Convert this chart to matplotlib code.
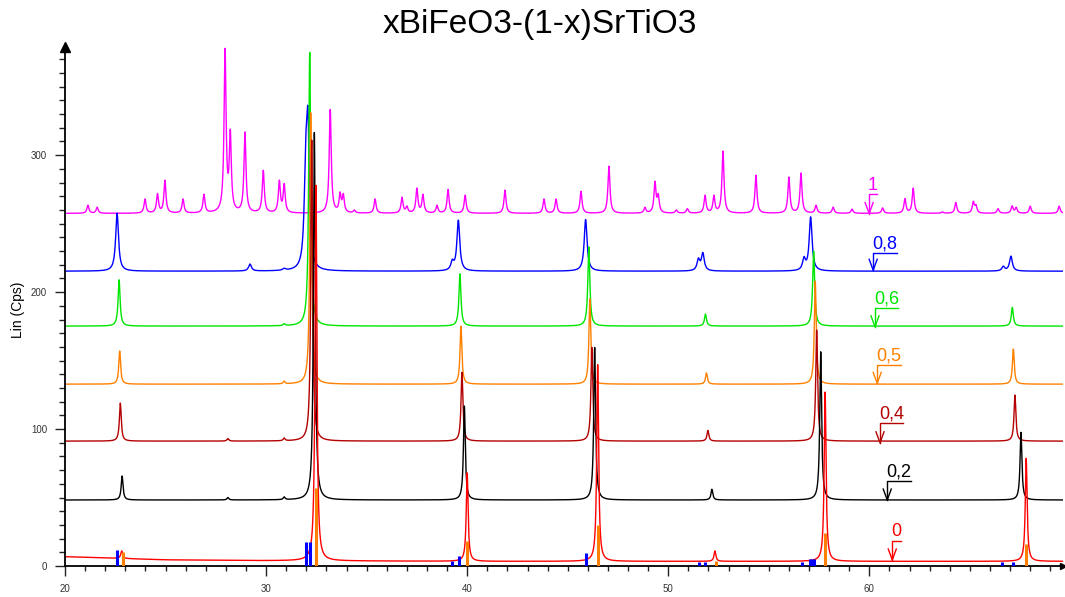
import numpy as np
import matplotlib
matplotlib.use("Agg")
import matplotlib.pyplot as plt
from matplotlib.ticker import MultipleLocator

plt.rcParams['font.family'] = ['Liberation Sans', 'DejaVu Sans']

# ---------------- data ----------------
title = "xBiFeO3-(1-x)SrTiO3"
series_labels = ["1", "0,8", "0,6", "0,5", "0,4", "0,2", "0"]
series_colors = ["#ff00ff", "#0000ff", "#00e600", "#ff8000", "#b40000", "#000000", "#ff0000"]

# baselines (counts)
base_1 = 257.5
base_08 = 215.3
base_06 = 175.2
base_05 = 132.8
base_04 = 91.2
base_02 = 48.2
base_0_x = [20, 25, 30, 40, 70]
base_0_y = [6.8, 4.5, 3.9, 3.4, 3.4]

# peak positions (2theta) and peak-top values (counts)
pos_1 = [21.14, 21.6, 23.98, 24.6, 24.97, 25.87, 26.91, 27.96, 28.22, 28.95, 29.86, 30.66, 30.9,
         33.19, 33.68, 33.84, 34.39, 35.42, 36.76, 37.0, 37.5, 37.8, 38.5, 39.05, 39.9, 41.88,
         43.82, 44.42, 45.66, 47.05, 48.84, 49.34, 49.5, 50.4, 50.95, 51.83, 52.27, 52.72, 54.36,
         56.0, 56.6, 57.35, 58.2, 59.14, 60.66, 61.77, 62.18, 63.63, 64.3, 65.17, 65.3, 66.4,
         67.1, 67.3, 68.0, 69.44]
top_1 = [263.5, 262, 268, 272, 281.8, 268, 271.5, 378, 319, 317, 289, 281.8, 279.3,
         333.4, 273.2, 272, 260, 268, 269.3, 263, 276, 271.5, 263.5, 275, 270.8, 274.5,
         268, 268, 273.7, 292, 262, 281, 272, 260, 261, 270.8, 270.8, 303, 285.4,
         284, 287, 263.5, 262, 260.6, 261.5, 268.4, 276, 258.6, 265.5, 266.4, 264, 261,
         263, 262, 262.8, 262.8]

pos_08 = [22.59, 29.2, 30.9, 31.97, 32.08, 39.26, 39.56, 45.89, 51.5, 51.72, 56.75, 57.08, 66.66, 67.04]
top_08 = [257.7, 220.5, 217.5, 313, 335, 224, 252.6, 253, 225, 229, 226, 255, 219, 226.3]

pos_06 = [22.69, 30.9, 32.17, 39.64, 46.05, 51.85, 57.23, 67.11]
top_06 = [209, 177, 375, 213.4, 233, 184, 230, 188.8]

pos_05 = [22.72, 30.9, 32.22, 39.69, 46.1, 51.9, 57.31, 67.16]
top_05 = [157, 135, 331, 175, 195, 141, 208, 158.4]

pos_04 = [22.75, 28.1, 30.9, 32.27, 39.74, 46.2, 51.97, 57.38, 67.24]
top_04 = [119, 93, 93.5, 311, 141.4, 159.6, 99, 172.3, 124.8]

pos_02 = [22.84, 28.1, 30.9, 32.4, 39.86, 46.34, 52.17, 57.58, 67.54]
top_02 = [65.7, 50, 50.5, 316.5, 116.8, 159.6, 56, 156.4, 97.6]

pos_0 = [22.82, 32.48, 40.0, 46.49, 52.32, 57.8, 67.8]
top_0 = [11, 278, 68, 147, 11, 127, 78.6]

# reference sticks
stick_blue_pos = [22.57, 31.97, 32.18, 39.23, 39.6, 45.91, 51.53, 51.82, 56.66, 57.07, 57.17, 57.23, 66.61, 67.12]
stick_blue_h = [11.7, 17.3, 17.3, 3.5, 7, 9.5, 3, 3, 3, 5, 5, 5, 3, 3]
stick_orange_pos = [22.87, 32.5, 40.0, 46.5, 52.35, 57.8, 67.8]
stick_orange_h = [10.5, 57, 18.5, 30, 3.6, 24.3, 16]

# label anchors: arrow x, arrow-tip y, underline y, underline end x
lab_x = [59.99, 60.19, 60.28, 60.39, 60.53, 60.89, 61.14]
lab_tip = [257.4, 216, 174.7, 133.4, 90, 48.2, 4.4]
lab_line = [271.3, 228.7, 188.1, 146.7, 104.6, 62.3, 18.2]
lab_end = [60.38, 61.36, 61.44, 61.56, 61.69, 62.05, 61.59]

# ---------------- drawing ----------------
x = np.arange(20.0, 69.7, 0.005)


def lor(d, g):
    return g ** 2 / (d ** 2 + g ** 2)


def profile(xx, base_curve, pos, top, g):
    """Sum of Lorentzians whose summed maxima hit the read peak-top values."""
    pos = np.asarray(pos, float)
    top = np.asarray(top, float)
    b_at = np.interp(pos, xx, base_curve)
    M = lor(pos[:, None] - pos[None, :], g)
    amps = np.linalg.solve(M, top - b_at)
    y = base_curve.copy()
    for p, a in zip(pos, amps):
        y = y + a * lor(xx - p, g)
    return y


flat = np.ones_like(x)
base0 = np.interp(x, base_0_x, base_0_y)
curves = [
    profile(x, base_1 * flat, pos_1, top_1, 0.06),
    profile(x, base_08 * flat, pos_08, top_08, 0.085),
    profile(x, base_06 * flat, pos_06, top_06, 0.06),
    profile(x, base_05 * flat, pos_05, top_05, 0.055),
    profile(x, base_04 * flat, pos_04, top_04, 0.055),
    profile(x, base_02 * flat, pos_02, top_02, 0.055),
    profile(x, base0, pos_0, top_0, 0.055),
]

fig = plt.figure(figsize=(10.65, 5.97), dpi=100)
ax = fig.add_axes([65 / 1065, 1 - 566 / 597, 998 / 1065, (566 - 47) / 597])

for c, col in zip(curves, series_colors):
    ax.plot(x, c, color=col, lw=1.0)

ax.vlines(stick_blue_pos, 0, stick_blue_h, color="#0000ff", lw=2.2, zorder=5)
ax.vlines(stick_orange_pos, 0, stick_orange_h, color="#ff8000", lw=2.2, zorder=5)

for lab, col, ax_x, tip, ly, ex in zip(series_labels, series_colors, lab_x, lab_tip, lab_line, lab_end):
    ax.plot([ax_x, ax_x, ex], [tip, ly, ly], color=col, lw=1.0)
    ax.plot([ax_x - 0.2, ax_x, ax_x + 0.2], [tip + 8, tip, tip + 8], color=col, lw=1.0)
    ax.text((ax_x + ex) / 2, ly + 0.5, lab, color=col, fontsize=13, ha='center', va='bottom')

ax.set_xlim(20, 69.63)
ax.set_ylim(0, 379)

for s in ['top', 'right']:
    ax.spines[s].set_visible(False)
for s in ['left', 'bottom']:
    ax.spines[s].set_linewidth(1.3)
    ax.spines[s].set_color('black')

ax.xaxis.set_major_locator(MultipleLocator(10))
ax.xaxis.set_minor_locator(MultipleLocator(1))
ax.yaxis.set_major_locator(MultipleLocator(100))
ax.yaxis.set_minor_locator(MultipleLocator(10))
ax.tick_params(axis='x', which='major', length=7, width=1.0, labelsize=7, pad=6, labelcolor='#333333')
ax.tick_params(axis='x', which='minor', length=3.5, width=1.0)
ax.tick_params(axis='y', which='major', length=7, width=1.0, labelsize=7, pad=6, labelcolor='#333333')
ax.tick_params(axis='y', which='minor', length=4, width=1.0)
ax.tick_params(which='both', color='#222222')

ax.plot(1, 0, marker='>', color='black', markersize=5, transform=ax.transAxes, clip_on=False)
ax.plot(0, 1, marker='^', color='black', markersize=7, transform=ax.transAxes, clip_on=False)

fig.text(540 / 1065, 1 - 24 / 597, title, fontsize=24, ha='center', va='center')
fig.text(18 / 1065, 1 - 310 / 597, "Lin (Cps)", fontsize=10, rotation=90, ha='center', va='center')

fig.savefig("out.png", dpi=100)
